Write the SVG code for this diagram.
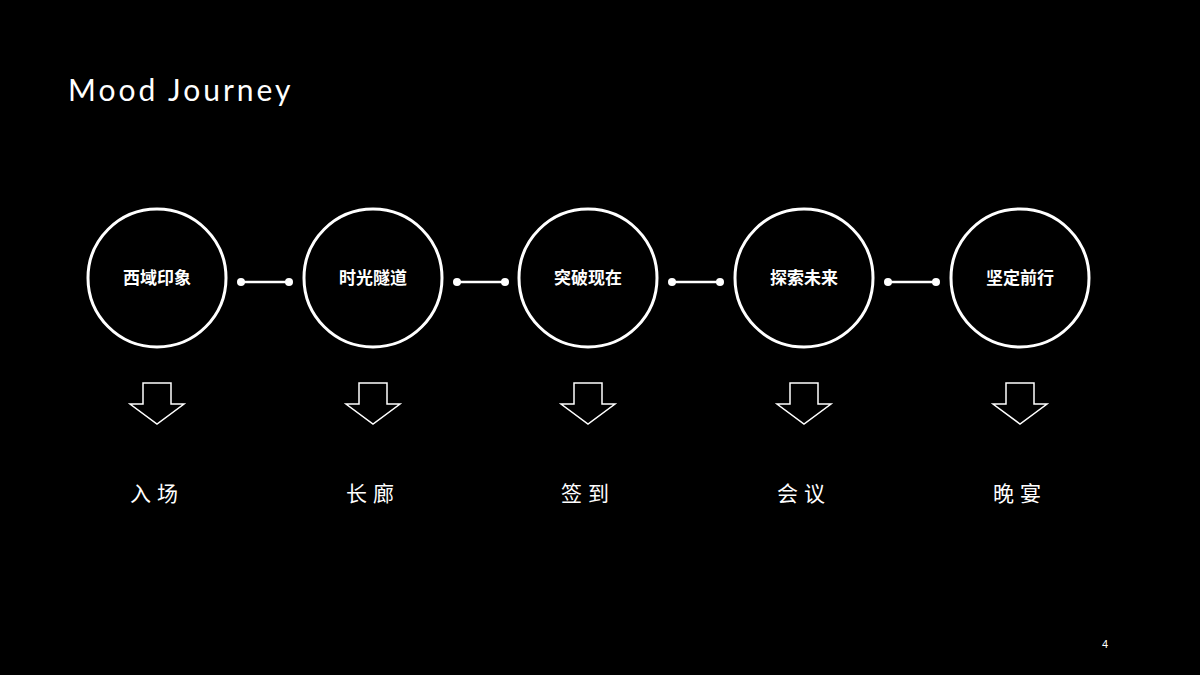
<svg xmlns="http://www.w3.org/2000/svg" width="1200" height="675" viewBox="0 0 1200 675">
<style>
.c{fill:none;stroke:#fff;stroke-width:3}
.n{font-family:"Noto Sans CJK SC",sans-serif;font-size:17px;font-weight:bold;fill:#fff;text-anchor:middle}
.l{font-family:"Noto Sans CJK SC",sans-serif;font-size:21px;fill:#fff;text-anchor:middle;letter-spacing:6px}
.a{fill:none;stroke:#fff;stroke-width:1.5;stroke-linejoin:miter}
.k{stroke:#fff;stroke-width:2.5}
</style>
<defs>
<path id="arr" class="a" d="M-14,-41 H14 V-20 H27 L0,0 L-27,-20 H-14 Z"/>
</defs>
<rect width="1200" height="675" fill="#000"/>
<text x="68" y="101" font-family="Lato, 'Liberation Sans', sans-serif" font-size="30" letter-spacing="3" fill="#fff">Mood Journey</text>
<g id="connectors">
<line class="k" x1="241" y1="282" x2="289" y2="282"/><circle cx="241" cy="282" r="4" fill="#fff"/><circle cx="289" cy="282" r="4" fill="#fff"/>
<line class="k" x1="457" y1="282" x2="505" y2="282"/><circle cx="457" cy="282" r="4" fill="#fff"/><circle cx="505" cy="282" r="4" fill="#fff"/>
<line class="k" x1="672" y1="282" x2="720" y2="282"/><circle cx="672" cy="282" r="4" fill="#fff"/><circle cx="720" cy="282" r="4" fill="#fff"/>
<line class="k" x1="888" y1="282" x2="936" y2="282"/><circle cx="888" cy="282" r="4" fill="#fff"/><circle cx="936" cy="282" r="4" fill="#fff"/>
</g>
<g id="n1"><circle class="c" cx="157" cy="278" r="69"/><text class="n" x="157" y="284">西域印象</text><use href="#arr" x="157" y="424"/><text class="l" x="157" y="501">入场</text></g>
<g id="n2"><circle class="c" cx="373" cy="278" r="69"/><text class="n" x="373" y="284">时光隧道</text><use href="#arr" x="373" y="424"/><text class="l" x="373" y="501">长廊</text></g>
<g id="n3"><circle class="c" cx="588" cy="278" r="69"/><text class="n" x="588" y="284">突破现在</text><use href="#arr" x="588" y="424"/><text class="l" x="588" y="501">签到</text></g>
<g id="n4"><circle class="c" cx="804" cy="278" r="69"/><text class="n" x="804" y="284">探索未来</text><use href="#arr" x="804" y="424"/><text class="l" x="804" y="501">会议</text></g>
<g id="n5"><circle class="c" cx="1020" cy="278" r="69"/><text class="n" x="1020" y="284">坚定前行</text><use href="#arr" x="1020" y="424"/><text class="l" x="1020" y="501">晚宴</text></g>
<text x="1105" y="648" font-family="'Liberation Sans', sans-serif" font-size="11" fill="#fff" text-anchor="middle">4</text>
</svg>
